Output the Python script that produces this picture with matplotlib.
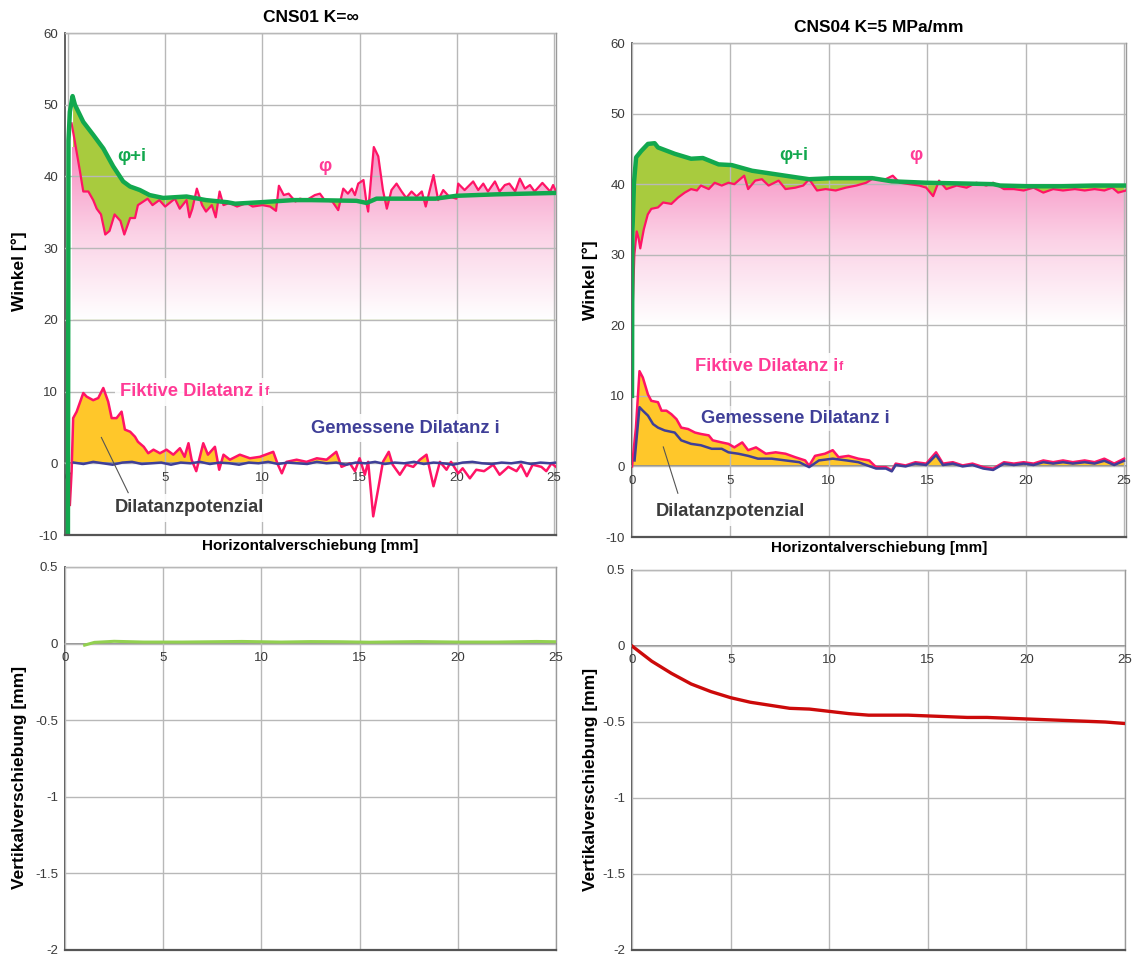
import numpy as np
import matplotlib
matplotlib.use("Agg")
import matplotlib.pyplot as plt
from matplotlib.colors import LinearSegmentedColormap

plt.rcParams['font.family'] = ['Liberation Sans', 'DejaVu Sans']
plt.rcParams['axes.unicode_minus'] = False

# ---------------- data: left (CNS01 K=inf) ----------------
phi_i_L_x = [0, 0.03, 0.1, 0.24, 0.36, 0.79, 1.3, 1.82, 2.33, 2.84, 3.19, 3.7, 4.2, 4.9, 6.1,
             7.1, 8.2, 8.6, 9.9, 11.6, 12.5, 14.84, 15.36, 15.87, 18.9, 19.98, 22.0, 25.1]
phi_i_L_y = [-10, 45, 49, 51.2, 50, 47.6, 45.8, 43.9, 41.4, 39.3, 38.6, 38.1, 37.4, 37.0, 37.2,
             36.7, 36.4, 36.2, 36.4, 36.7, 36.7, 36.6, 36.3, 36.9, 36.9, 37.3, 37.5, 37.7]

phi_L_x = [0.19, 0.36, 0.62, 0.79, 1.05, 1.3, 1.48, 1.7, 1.92, 2.14, 2.4, 2.7, 2.9, 3.2, 3.45,
           3.6, 4.1, 4.35, 4.7, 5.0, 5.5, 5.75, 6.1, 6.25, 6.4, 6.63, 6.9, 7.1, 7.4, 7.6,
           7.8, 8.0, 8.3, 8.7, 9.2, 9.5, 10.0, 10.4, 10.7, 10.85, 11.1, 11.35, 11.7, 11.93, 12.27,
           12.7, 12.96, 13.2, 13.6, 13.9, 14.16, 14.4, 14.6, 14.76, 14.93, 15.2, 15.36, 15.44, 15.73, 15.96,
           16.2, 16.4, 16.64, 16.9, 17.16, 17.4, 17.67, 17.93, 18.2, 18.4, 18.8, 19.04, 19.3, 19.6, 19.98,
           20.07, 20.4, 20.84, 21.1, 21.36, 21.6, 21.96, 22.2, 22.47, 22.7, 23.0, 23.24, 23.5, 23.76, 24.0,
           24.4, 24.8, 24.95, 25.1]
phi_L_y = [47.4, 44.8, 40.7, 37.9, 37.9, 36.7, 35.5, 34.7, 31.9, 32.4, 34.7, 33.8, 31.9, 34.2, 34.2,
           36.0, 36.9, 36.0, 36.7, 35.8, 36.9, 35.5, 36.7, 34.3, 35.5, 38.3, 36.0, 35.1, 36.0, 34.3,
           37.9, 36.0, 36.3, 35.8, 36.3, 35.8, 36.0, 35.8, 35.2, 38.7, 37.4, 37.6, 36.5, 36.9, 36.7,
           37.4, 37.6, 36.7, 36.5, 35.3, 38.3, 37.6, 38.3, 37.4, 39.0, 39.5, 36.2, 35.1, 44.1, 42.8,
           38.1, 35.5, 38.1, 39.0, 37.9, 37.0, 37.9, 37.2, 37.9, 35.8, 40.2, 36.7, 38.1, 37.2, 36.9,
           39.0, 38.1, 39.3, 38.1, 39.0, 37.9, 39.3, 37.9, 38.8, 39.0, 37.9, 39.7, 38.3, 38.8, 37.9,
           39.1, 37.9, 38.8, 37.9]

if_L_x = [0.1, 0.19, 0.27, 0.45, 0.79, 0.96, 1.3, 1.56, 1.82, 2.07, 2.25, 2.5, 2.76, 2.93, 3.2,
          3.45, 3.6, 3.9, 4.13, 4.4, 4.73, 5.07, 5.42, 5.76, 6.0, 6.2, 6.36, 6.6, 6.96, 7.2,
          7.56, 7.78, 8.0, 8.33, 8.84, 9.36, 9.87, 10.56, 10.8, 11.0, 11.24, 11.76, 12.27, 12.8, 13.3,
          13.8, 14.07, 14.5, 14.76, 15.0, 15.27, 15.44, 15.7, 15.96, 16.2, 16.5, 16.7, 17.07, 17.4, 17.76,
          18.1, 18.44, 18.8, 19.13, 19.47, 19.7, 20.07, 20.3, 20.67, 21.0, 21.4, 21.87, 22.2, 22.65, 23.07,
          23.3, 23.6, 23.9, 24.35, 24.6, 24.87, 25.1]
if_L_y = [-5.8, -1.1, 6.3, 7.2, 9.8, 9.3, 8.8, 9.1, 10.5, 8.6, 6.3, 6.3, 7.2, 4.7, 4.4,
          3.7, 3.0, 2.3, 1.4, 1.9, 1.4, 1.9, 1.2, 2.1, 0.9, 2.8, 0.5, -1.1, 2.8, 1.2,
          2.3, -0.9, 1.2, 0.5, 1.2, 0.7, 0.9, 1.6, -0.2, -1.4, 0.2, 0.5, 0.2, 0.7, 0.5,
          1.6, -0.5, 0.0, -1.1, 0.7, -1.6, 0.2, -7.4, -3.5, 0.2, 1.6, -0.2, -1.6, -0.2, -0.5,
          0.5, 1.2, -3.2, 0.2, -0.9, 0.2, -1.4, -0.7, -2.1, -0.9, -1.1, -0.2, -1.6, -0.5, -1.1,
          -0.2, -1.8, -0.2, -0.5, -1.1, 0.0, -0.5]

i_L_x = [0.3, 0.8, 1.3, 1.8, 2.3, 2.8, 3.3, 3.8, 4.3, 4.8, 5.3, 5.8, 6.3, 6.8, 7.3, 7.8, 8.3,
         8.8, 9.3, 9.8, 10.3, 10.8, 11.3, 11.8, 12.3, 12.8, 13.3, 13.8, 14.3, 14.8, 15.3, 15.8,
         16.3, 16.8, 17.3, 17.8, 18.3, 18.8, 19.3, 19.8, 20.3, 20.8, 21.3, 21.8, 22.3, 22.8,
         23.3, 23.8, 24.3, 24.8, 25.1]
i_L_y = [0.1, -0.1, 0.2, 0.0, -0.2, 0.1, 0.2, -0.1, 0.0, 0.1, -0.2, 0.1, 0.0, 0.2, -0.1, 0.1, 0.0,
         -0.2, 0.1, 0.0, 0.2, -0.1, 0.1, 0.0, -0.1, 0.2, 0.0, 0.1, -0.2, 0.1, 0.0, 0.2,
         -0.1, 0.1, 0.0, 0.2, -0.1, 0.1, 0.0, -0.2, 0.1, 0.2, 0.0, -0.1, 0.1, 0.0,
         0.2, -0.1, 0.1, 0.0, 0.1]

v_L_x = [1.0, 1.5, 2.5, 4.0, 6.0, 9.0, 11.0, 12.5, 14.0, 15.5, 18.0, 20.0, 22.0, 24.0, 25.0]
v_L_y = [-0.01, 0.008, 0.015, 0.01, 0.01, 0.014, 0.01, 0.013, 0.012, 0.009, 0.013, 0.01, 0.01, 0.014, 0.012]

# ---------------- data: right (CNS04 K=5 MPa/mm) ----------------
phi_i_R_x = [0, 0.02, 0.1, 0.21, 0.47, 0.81, 1.15, 1.32, 2.17, 3.0, 3.6, 4.4, 5.07, 6.1, 7.3,
             8.5, 9.0, 10.2, 12.2, 13.2, 14.95, 16.7, 18.35, 18.7, 20.1, 21.8, 23.5, 25.1]
phi_i_R_y = [10, 33, 40.2, 43.8, 44.7, 45.7, 45.8, 45.2, 44.3, 43.6, 43.7, 42.8, 42.7, 41.9, 41.4,
             40.9, 40.7, 40.85, 40.85, 40.4, 40.2, 40.1, 40.0, 39.8, 39.7, 39.7, 39.8, 39.8]

phi_R_x = [0.03, 0.12, 0.24, 0.33, 0.42, 0.6, 0.8, 0.98, 1.32, 1.58, 2.0, 2.34, 2.68, 3.0, 3.3,
           3.5, 3.9, 4.2, 4.56, 4.9, 5.2, 5.7, 5.9, 6.26, 6.6, 6.94, 7.45, 7.8, 8.3, 8.7,
           9.0, 9.4, 9.84, 10.35, 10.86, 11.4, 11.9, 12.3, 12.74, 13.25, 13.6, 14.1, 14.6, 14.95, 15.3,
           15.6, 15.97, 16.5, 17.0, 17.5, 18.0, 18.35, 18.9, 19.4, 19.9, 20.4, 20.9, 21.4, 21.9, 22.5,
           23.0, 23.5, 24.0, 24.4, 24.7, 25.1]
phi_R_y = [22.0, 30.0, 33.3, 32.4, 30.9, 33.6, 35.7, 36.5, 36.7, 37.4, 37.2, 38.1, 38.8, 39.3, 39.1,
           39.8, 39.3, 40.2, 39.8, 40.2, 40.0, 41.2, 39.3, 40.5, 40.7, 39.8, 40.5, 39.3, 39.5, 39.8,
           40.7, 39.1, 39.3, 39.1, 39.5, 39.8, 40.2, 40.9, 40.5, 41.2, 40.2, 40.0, 39.8, 39.5, 38.3,
           40.5, 39.3, 39.8, 39.5, 40.2, 39.8, 40.2, 39.3, 39.3, 39.1, 39.5, 38.8, 39.3, 39.1, 39.3,
           39.1, 39.3, 39.1, 39.5, 38.8, 39.1]

if_R_x = [0.0, 0.2, 0.38, 0.55, 0.81, 0.98, 1.32, 1.5, 1.75, 2.0, 2.26, 2.5, 2.85, 3.2, 3.5,
          3.9, 4.1, 4.56, 4.9, 5.2, 5.6, 5.9, 6.3, 6.8, 7.3, 7.8, 8.3, 8.8, 9.0, 9.3,
          9.8, 10.2, 10.5, 11.0, 11.5, 12.05, 12.4, 12.9, 13.2, 13.4, 13.9, 14.4, 14.95, 15.45, 15.8,
          16.3, 16.8, 17.3, 17.85, 18.35, 18.9, 19.4, 19.9, 20.4, 20.9, 21.4, 21.9, 22.4, 23.0, 23.5,
          24.0, 24.5, 25.0]
if_R_y = [0.0, 5.5, 13.5, 12.6, 10.2, 9.3, 9.1, 7.9, 7.9, 7.4, 6.7, 5.5, 5.3, 4.8, 4.6,
          4.4, 3.7, 3.4, 3.2, 2.7, 3.4, 2.3, 2.7, 1.8, 2.0, 1.8, 1.3, 0.85, 0.1, 1.5,
          1.8, 2.3, 1.3, 1.5, 1.1, 0.85, -0.1, -0.1, -0.56, 0.4, 0.14, 0.6, 0.4, 2.0, 0.4,
          0.6, 0.14, 0.4, -0.1, -0.3, 0.6, 0.4, 0.6, 0.4, 0.85, 0.6, 0.85, 0.6, 0.85, 0.6,
          1.1, 0.4, 1.1]

i_R_x = [0.13, 0.38, 0.55, 0.81, 1.07, 1.32, 1.66, 2.17, 2.5, 3.0, 3.5, 4.05, 4.56, 4.9, 5.4,
         5.9, 6.4, 7.1, 7.8, 8.5, 9.0, 9.5, 10.2, 10.9, 11.5, 12.4, 12.9, 13.2, 13.4, 13.9,
         14.4, 14.95, 15.45, 15.8, 16.3, 16.8, 17.3, 17.85, 18.35, 18.9, 19.4, 19.9, 20.4, 20.9, 21.4,
         21.9, 22.4, 23.0, 23.5, 24.0, 24.5, 25.0]
i_R_y = [0.85, 8.4, 7.9, 7.2, 6.0, 5.5, 5.1, 4.8, 3.7, 3.2, 3.0, 2.5, 2.5, 2.0, 1.8,
         1.5, 1.1, 1.1, 0.85, 0.6, -0.1, 0.85, 1.1, 0.85, 0.6, -0.3, -0.3, -0.7, 0.2, 0.0,
         0.4, 0.2, 1.6, 0.2, 0.4, 0.0, 0.2, -0.3, -0.5, 0.4, 0.2, 0.4, 0.2, 0.6, 0.4,
         0.6, 0.4, 0.6, 0.4, 0.8, 0.2, 0.8]

v_R_x = [0, 1, 2, 3, 4, 5, 6, 7, 8, 9, 10, 11, 12, 13, 14, 15, 16, 17, 18, 19, 20, 21, 22, 23, 24, 25]
v_R_y = [0.0, -0.1, -0.18, -0.25, -0.3, -0.34, -0.37, -0.39, -0.41, -0.415, -0.43, -0.445, -0.455,
         -0.455, -0.455, -0.46, -0.465, -0.47, -0.47, -0.475, -0.48, -0.485, -0.49, -0.495, -0.5, -0.51]

x_ticks = [0, 5, 10, 15, 20, 25]
ang_ticks = [-10, 0, 10, 20, 30, 40, 50, 60]
vert_ticks = [-2, -1.5, -1, -0.5, 0, 0.5]
vert_labels = ['-2', '-1.5', '-1', '-0.5', '0', '0.5']

# ---------------- styling ----------------
C_GREEN = '#12a84e'
C_GFILL = '#a8cb3e'
C_PINK = '#ff1466'
C_YELLOW = '#ffc72a'
C_BLUE = '#3f3f98'
C_TEXT_PINK = '#ff3b96'
C_GRID = '#b8b8b8'
TICK_C = '#3a3a3a'

FS_TICK = 9.5
FS_TITLE = 12.5
FS_XLAB = 11
FS_YLAB = 12.5
FS_ANN = 13.2

pink_cmap = LinearSegmentedColormap.from_list('pinkgrad', ['#ffffff', '#fbd2e6', '#f78dc1'])

W, H = 1137, 956
fig = plt.figure(figsize=(W / 100, H / 100), dpi=100)


def ax_at(l, t, r, b):
    return fig.add_axes([l / W, 1 - b / H, (r - l) / W, (b - t) / H])


def style_axes(ax, xlim, ylim, yticks, ylabels=None):
    ax.set_xlim(*xlim)
    ax.set_ylim(*ylim)
    ax.set_xticks(x_ticks)
    ax.set_yticks(yticks)
    if ylabels is not None:
        ax.set_yticklabels(ylabels)
    ax.grid(True, color=C_GRID, lw=1.0)
    ax.set_axisbelow(False)
    for s in ['top', 'right']:
        ax.spines[s].set_color('#9a9a9a')
        ax.spines[s].set_linewidth(1.0)
    ax.spines['left'].set_color('#555555')
    ax.spines['left'].set_linewidth(1.3)
    ax.spines['bottom'].set_position(('data', 0))
    ax.spines['bottom'].set_color('#8a8a8a')
    ax.spines['bottom'].set_linewidth(1.3)
    ax.plot([0, 1], [0, 0], transform=ax.transAxes, color='#555555', lw=1.6,
            clip_on=False, zorder=6)
    ax.tick_params(axis='both', length=0, labelsize=FS_TICK, labelcolor=TICK_C)
    ax.tick_params(axis='x', pad=6)
    ax.tick_params(axis='y', pad=5)


def top_panel(ax, phi_i_x, phi_i_y, phi_x, phi_y, if_x, if_y, i_x, i_y, xlim):
    style_axes(ax, xlim, (-10, 60), ang_ticks)
    px = np.array(phi_x)
    py = np.array(phi_y)
    gx = np.array(phi_i_x)
    gy = np.array(phi_i_y)
    # green fill region (phi+i down to 20), later covered by pink gradient under phi
    m = gx >= px[0]
    ax.fill_between(gx[m], gy[m], 20, color=C_GFILL, lw=0, zorder=1)
    # pink gradient under phi
    poly = ax.fill_between(px, py, 20, facecolor='none', edgecolor='none', zorder=1.1)
    grad = np.linspace(0, 1, 256).reshape(-1, 1)
    im = ax.imshow(grad, extent=[px[0], px[-1], 20, 44], origin='lower', aspect='auto',
                   cmap=pink_cmap, zorder=1.2, interpolation='bilinear')
    im.set_clip_path(poly.get_paths()[0], transform=ax.transData)
    ax.set_xlim(*xlim)
    ax.set_ylim(-10, 60)
    # yellow dilatancy potential
    fx = np.array(if_x)
    fy = np.array(if_y)
    ax.fill_between(fx, fy, 0, where=fy > 0, interpolate=True, color=C_YELLOW, lw=0, zorder=1.3)
    # lines
    ax.plot(px, py, color=C_PINK, lw=1.6, zorder=4, solid_joinstyle='round')
    ax.plot(gx, gy, color=C_GREEN, lw=3.2, zorder=4.5, solid_joinstyle='round')
    ax.plot(fx, fy, color=C_PINK, lw=1.8, zorder=4, solid_joinstyle='round')
    ax.plot(i_x, i_y, color=C_BLUE, lw=1.8, zorder=4.2)
    ax.set_ylabel('Winkel [°]', fontsize=FS_YLAB, fontweight='bold')
    ax.set_xlabel('Horizontalverschiebung [mm]', fontsize=FS_XLAB, fontweight='bold')


box = dict(facecolor='white', edgecolor='none', alpha=0.9, pad=4)


def sub_f(ax, t, color):
    ax.annotate('f', xy=(1.0, 0.12), xycoords=t, xytext=(0.5, 0), textcoords='offset points',
                fontsize=9, fontweight='bold', color=color, va='bottom', ha='left', zorder=7)


# ---- top left ----
axTL = ax_at(65, 33, 556, 535)
top_panel(axTL, phi_i_L_x, phi_i_L_y, phi_L_x, phi_L_y, if_L_x, if_L_y, i_L_x, i_L_y, (-0.15, 25.1))
axTL.set_title('CNS01 K=∞', fontsize=FS_TITLE, fontweight='bold', pad=8)
axTL.yaxis.set_label_coords(-0.078, 0.525)
axTL.xaxis.set_label_coords(0.5, -0.008)
axTL.xaxis.label.set_va('top')
axTL.text(3.26, 42.8, 'φ+i', color=C_GREEN, fontsize=FS_ANN, fontweight='bold', ha='center', va='center', zorder=7)
axTL.text(13.2, 41.4, 'φ', color=C_TEXT_PINK, fontsize=FS_ANN, fontweight='bold', ha='center', va='center', zorder=7)
t1 = axTL.text(2.7, 10.0, 'Fiktive Dilatanz i', color=C_TEXT_PINK, fontsize=FS_ANN, fontweight='bold',
               ha='left', va='center', bbox=box, zorder=5)
sub_f(axTL, t1, C_TEXT_PINK)
axTL.text(12.5, 4.9, 'Gemessene Dilatanz i', color=C_BLUE, fontsize=FS_ANN, fontweight='bold',
          ha='left', va='center', bbox=box, zorder=5)
axTL.text(2.4, -6.2, 'Dilatanzpotenzial', color='#3c3c3c', fontsize=FS_ANN, fontweight='bold',
          ha='left', va='center', bbox=box, zorder=5)
axTL.plot([1.72, 3.1], [3.6, -4.1], color='#555555', lw=0.8, zorder=6)

# ---- top right ----
axTR = ax_at(632, 43, 1126, 537)
top_panel(axTR, phi_i_R_x, phi_i_R_y, phi_R_x, phi_R_y, if_R_x, if_R_y, i_R_x, i_R_y, (0, 25.1))
axTR.set_title('CNS04 K=5 MPa/mm', fontsize=FS_TITLE, fontweight='bold', pad=8)
axTR.yaxis.set_label_coords(-0.069, 0.52)
axTR.xaxis.set_label_coords(0.5, -0.008)
axTR.xaxis.label.set_va('top')
axTR.text(8.2, 44.0, 'φ+i', color=C_GREEN, fontsize=FS_ANN, fontweight='bold', ha='center', va='center', zorder=7)
axTR.text(14.4, 44.0, 'φ', color=C_TEXT_PINK, fontsize=FS_ANN, fontweight='bold', ha='center', va='center', zorder=7)
t2 = axTR.text(3.2, 14.1, 'Fiktive Dilatanz i', color=C_TEXT_PINK, fontsize=FS_ANN, fontweight='bold',
               ha='left', va='center', bbox=box, zorder=5)
sub_f(axTR, t2, C_TEXT_PINK)
axTR.text(3.5, 6.8, 'Gemessene Dilatanz i', color=C_BLUE, fontsize=FS_ANN, fontweight='bold',
          ha='left', va='center', bbox=dict(facecolor='white', edgecolor='none', alpha=0.6, pad=3), zorder=5)
axTR.text(1.22, -6.4, 'Dilatanzpotenzial', color='#3c3c3c', fontsize=FS_ANN, fontweight='bold',
          ha='left', va='center', bbox=box, zorder=5)
axTR.plot([1.59, 2.33], [2.76, -3.8], color='#555555', lw=0.8, zorder=6)

# ---- bottom left ----
axBL = ax_at(65, 567, 556, 950)
style_axes(axBL, (0, 25), (-2, 0.5), vert_ticks, vert_labels)
axBL.plot(v_L_x, v_L_y, color='#92d050', lw=2.2, zorder=4)
axBL.set_ylabel('Vertikalverschiebung [mm]', fontsize=FS_YLAB, fontweight='bold')
axBL.yaxis.set_label_coords(-0.078, 0.45)

# ---- bottom right ----
axBR = ax_at(632, 570, 1125, 950)
style_axes(axBR, (0, 25), (-2, 0.5), vert_ticks, vert_labels)
axBR.plot(v_R_x, v_R_y, color='#cc0a0a', lw=2.4, zorder=4)
axBR.set_ylabel('Vertikalverschiebung [mm]', fontsize=FS_YLAB, fontweight='bold')
axBR.yaxis.set_label_coords(-0.069, 0.45)

fig.savefig('out.png', dpi=100, facecolor='white')
